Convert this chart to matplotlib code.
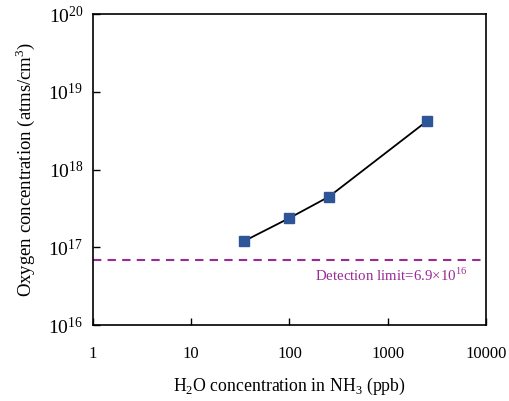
import numpy as np
import matplotlib
matplotlib.use('Agg')
import matplotlib.pyplot as plt
from matplotlib.ticker import FixedLocator, NullLocator

# H2O in NH3 (ppb) vs oxygen concentration (atms/cm3)
h2o_ppb = [34.5, 100, 252, 2490]
oxygen = [1.2e17, 2.38e17, 4.47e17, 4.17e18]
detection_limit = 6.9e16

xticks = [1, 10, 100, 1000, 10000]
xticklabels = ['1', '10', '100', '1000', '10000']
yticks = [1e16, 1e17, 1e18, 1e19, 1e20]
yticklabels = [r'$\mathregular{10^{%d}}$' % e for e in range(16, 21)]

plt.rcParams['font.family'] = ['Liberation Serif', 'DejaVu Serif']
plt.rcParams['mathtext.fontset'] = 'custom'
plt.rcParams['mathtext.rm'] = 'Liberation Serif'

fig = plt.figure(figsize=(5.09, 4.01), dpi=100)
ax = fig.add_axes([0.1827, 0.1895, 0.7721, 0.7755])

ax.plot(h2o_ppb, oxygen, '-', color='black', lw=1.3, zorder=2)
ax.plot(h2o_ppb, oxygen, 's', color='#2E5597', markersize=7, zorder=3)
ax.axhline(detection_limit, color='#9A2A96', lw=1.5, ls=(0, (4, 3)), zorder=1)
ax.text(0.953, 0.16, r'Detection limit=6.9$\times$10$^{\mathregular{16}}$',
        transform=ax.transAxes, ha='right', va='center',
        color='#9A2A96', fontsize=10.7)

ax.set_xscale('log')
ax.set_yscale('log')
ax.set_xlim(1, 10000)
ax.set_ylim(1e16, 1e20)
ax.xaxis.set_major_locator(FixedLocator(xticks))
ax.yaxis.set_major_locator(FixedLocator(yticks))
ax.xaxis.set_minor_locator(NullLocator())
ax.yaxis.set_minor_locator(NullLocator())
ax.set_xticklabels(xticklabels, fontsize=12)
ax.set_yticklabels(yticklabels, fontsize=14)
ax.tick_params(direction='in', length=5, width=1)
ax.tick_params(axis='y', pad=7)
ax.tick_params(axis='x', pad=15)
for s in ax.spines.values():
    s.set_linewidth(1.2)

ax.set_xlabel(r'H$_\mathregular{2}$O concentration in NH$_\mathregular{3}$ (ppb)', fontsize=12.8, labelpad=10)
ax.set_ylabel(r'Oxygen concentration (atms/cm$^\mathregular{3}$)', fontsize=13.5, labelpad=8)

fig.savefig('out.png', dpi=100)
